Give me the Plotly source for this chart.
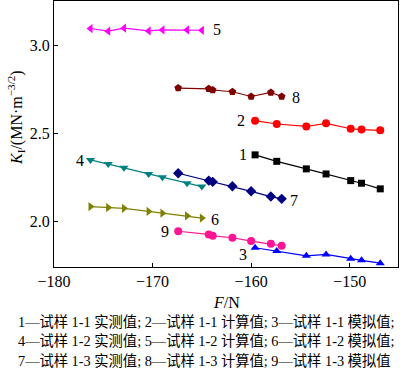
import plotly.graph_objects as go

# x-values (F/N)
x_a = [-159.6, -157.4, -154.4, -152.4, -149.9, -148.8, -146.9]   # sample 1-1
x_b = [-176.3, -174.5, -172.9, -170.4, -169.0, -166.5, -165.0]   # sample 1-2
x_c = [-167.4, -164.3, -163.9, -161.9, -160.0, -158.0, -156.9]   # sample 1-3

s1 = [2.378, 2.341, 2.298, 2.269, 2.231, 2.216, 2.184]
s2 = [2.573, 2.554, 2.540, 2.558, 2.527, 2.522, 2.518]
s3 = [1.848, 1.829, 1.802, 1.810, 1.785, 1.776, 1.760]
s4 = [2.349, 2.326, 2.304, 2.269, 2.250, 2.216, 2.197]
s5 = [3.099, 3.084, 3.101, 3.085, 3.091, 3.091, 3.089]
s6 = [2.083, 2.077, 2.073, 2.055, 2.045, 2.030, 2.017]
s7 = [2.273, 2.231, 2.224, 2.199, 2.170, 2.140, 2.127]
s8 = [2.759, 2.755, 2.748, 2.738, 2.711, 2.734, 2.711]
s9 = [1.942, 1.924, 1.916, 1.905, 1.886, 1.871, 1.859]

series = [
    ("1", x_a, s1, "#000000", "square", 7),
    ("2", x_a, s2, "#ff0000", "circle", 8),
    ("3", x_a, s3, "#0000ff", "triangle-up", 8),
    ("4", x_b, s4, "#008080", "triangle-down", 8),
    ("5", x_b, s5, "#ff00ff", "triangle-left", 8),
    ("6", x_b, s6, "#808000", "triangle-right", 8),
    ("7", x_c, s7, "#000080", "diamond", 8),
    ("8", x_c, s8, "#800000", "pentagon", 8),
    ("9", x_c, s9, "#ff1493", "circle", 8),
]

# label positions (data coords)
lab_x = {"1": -160.85, "2": -161.05, "3": -160.85, "4": -177.4, "5": -163.5,
         "6": -163.7, "7": -155.7, "8": -155.4, "9": -168.75}
lab_y = {"1": 2.379, "2": 2.573, "3": 1.810, "4": 2.345, "5": 3.091,
         "6": 2.009, "7": 2.117, "8": 2.704, "9": 1.941}

caption = [
    "1—试样 1-1 实测值; 2—试样 1-1 计算值; 3—试样 1-1 模拟值;",
    "4—试样 1-2 实测值; 5—试样 1-2 计算值; 6—试样 1-2 模拟值;",
    "7—试样 1-3 实测值; 8—试样 1-3 计算值; 9—试样 1-3 模拟值",
]

serif = "Liberation Serif"
cjk = "Liberation Serif, Noto Sans CJK SC"

fig = go.Figure()
for name, xs, ys, col, sym, sz in series:
    fig.add_trace(go.Scatter(
        x=xs, y=ys, mode="lines+markers", name=name,
        line=dict(color=col, width=1.2),
        marker=dict(color=col, symbol=sym, size=sz),
        showlegend=False))

ann = []
for name, *_ in series:
    ann.append(dict(x=lab_x[name], y=lab_y[name], xref="x", yref="y", text=name,
                    xanchor="center", yanchor="middle",
                    showarrow=False, font=dict(family=serif, size=16, color="#000")))

# plot area pixels: top=1, bottom=267 (height 266)
def py(p):
    return 1 - (p - 1) / 266.0

ann.append(dict(x=0.5, y=py(302), xref="paper", yref="paper", text="<i>F</i>/N",
                xanchor="center", yanchor="middle",
                showarrow=False, font=dict(family=serif, size=16, color="#000")))
ann.append(dict(x=(16 - 54) / 344.0, y=py(118), xref="paper", yref="paper",
                text="<i>K</i><sub>I</sub>/(MN·m<sup>−3/2</sup>)", textangle=-90,
                xanchor="center", yanchor="middle",
                showarrow=False, font=dict(family=serif, size=16, color="#000")))
for i, (line, yy) in enumerate(zip(caption, [322, 341, 361])):
    ann.append(dict(x=(16 - 54) / 344.0, y=py(yy), xref="paper", yref="paper",
                    text=line, xanchor="left", yanchor="middle", showarrow=False,
                    font=dict(family=cjk, size=14.3, color="#000")))

fig.update_layout(
    width=400, height=378,
    margin=dict(l=54, r=2, t=1, b=111),
    paper_bgcolor="white", plot_bgcolor="white",
    annotations=ann,
    xaxis=dict(range=[-180, -145.1], tickvals=[-180, -170, -160, -150],
               ticks="inside", ticklen=4, tickcolor="#000",
               showline=True, linecolor="#000", linewidth=1, mirror=True,
               showgrid=False, zeroline=False,
               tickfont=dict(family=serif, size=16, color="#000")),
    yaxis=dict(range=[1.738, 3.256], tickvals=[2.0, 2.5, 3.0], tickformat=".1f",
               ticks="inside", ticklen=4, tickcolor="#000",
               showline=True, linecolor="#000", linewidth=1, mirror=True,
               showgrid=False, zeroline=False,
               tickfont=dict(family=serif, size=16, color="#000")),
)

fig.write_html("out.html", config={"displayModeBar": False},
               post_script="document.body.style.margin='0';document.body.style.overflow='hidden';")
